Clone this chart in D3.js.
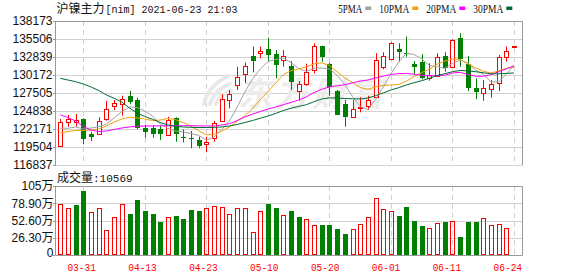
<!DOCTYPE html>
<html><head><meta charset="utf-8">
<script src="https://cdn.jsdelivr.net/npm/d3@7"></script>
<style>body{margin:0;background:#fff;}svg{display:block;}</style>
</head><body>
<svg id="c" width="578" height="276"></svg>
<script>
// ---------------- DATA ----------------
const title = "沪镍主力[nim] 2021-06-23 21:03";
const dates = ["03-26","03-29","03-30","03-31","04-01","04-02","04-06","04-07","04-08","04-09","04-12","04-13","04-14","04-15","04-16","04-19","04-20","04-21","04-22","04-23","04-26","04-27","04-28","04-29","04-30","05-06","05-07","05-10","05-11","05-12","05-13","05-14","05-17","05-18","05-19","05-20","05-21","05-24","05-25","05-26","05-27","05-28","05-31","06-01","06-02","06-03","06-04","06-07","06-08","06-09","06-10","06-11","06-15","06-16","06-17","06-18","06-21","06-22","06-23","06-24"];
const open  = [119700,123160,123250,123580,121430,121430,123610,125580,125830,127060,126470,122250,122280,122130,121240,123760,121030,120790,120540,119900,120790,123360,126420,128690,130320,132990,133390,134020,133240,132440,131510,127800,128840,130910,134400,131800,127800,125880,123900,125240,125620,126960,131360,132540,133980,133390,131760,132140,129770,130020,132990,131400,135610,131760,128250,127460,128050,128940,132880,134280];
const high  = [123650,124250,124390,123760,121770,123900,126320,126470,127100,127800,126810,122760,122760,122660,123990,123900,122130,121880,121030,121030,123360,127310,127950,131400,132000,134370,134370,135700,133880,133880,132250,129280,131850,134870,134510,132000,127950,126470,126470,126870,127100,133390,133540,135020,134870,135850,132250,133240,131910,133390,133540,135460,136350,132990,129680,129430,129430,133140,134370,134510];
const low   = [119700,122510,122510,119900,120390,121390,123400,124990,124140,125830,122130,120880,120880,120540,121130,120290,120200,119310,119310,118720,120290,123250,125240,127950,128940,130570,132650,132140,129680,131400,127950,126360,128590,130420,132140,127100,124250,122510,123900,124650,124990,126810,131020,132500,132140,132880,130280,129530,129330,129920,130660,131250,131400,127800,126570,126360,126810,127800,132140,134280];
const close = [123160,123610,123460,120650,121030,123400,125090,126020,126620,126170,122280,121680,121430,121390,123460,121390,120940,120690,119700,120250,123020,126570,127360,129920,131510,132290,133730,133140,131650,132940,129180,128790,130660,134420,132880,128440,124250,123990,125090,125480,126470,132400,132940,134910,133620,133240,131400,129680,130170,132800,131170,135360,132540,128290,127700,128200,128840,132800,133730,134510];
const ma5  = [122280,122280,122470,122170,122320,122510,122910,123800,124760,125430,125360,124840,124100,122910,122250,121870,121730,121500,121210,120540,120990,122100,123360,125430,127650,129580,131060,132170,132470,132690,132020,131140,130690,131180,131210,131060,130140,128760,126990,125500,125050,126540,128390,130320,132100,133360,133220,132570,131580,131450,131140,131880,132400,131950,130910,130320,129140,129160,130280,131610];
const ma10 = [121580,121800,121950,121950,122020,122170,122620,123210,123650,123920,123830,123640,123430,123500,123730,123550,123130,122600,121900,121310,121390,121870,122470,123330,124130,125220,126500,127740,128940,130220,130820,131050,131390,131830,131970,131580,130630,129730,129060,128320,128050,128410,128630,128690,128770,129240,129950,130530,131030,131760,132230,132530,132480,131830,131240,130740,130470,130780,131140,131310];
const ma20 = [124250,123870,123360,122540,122020,121800,121870,122100,122320,122470,122570,122620,122620,122650,122660,122660,122660,122660,122650,122620,122620,122770,122960,123420,123950,124390,124760,125130,125430,125770,126110,126470,126930,127580,128050,128410,128570,128740,129000,129270,129430,129730,130010,130260,130370,130410,130290,130130,130050,130040,130140,130470,130560,130260,129990,129980,130220,130660,131090,131540];
const ma30 = [129680,129430,129180,128840,128390,127880,127210,126720,126170,125280,124540,124020,123610,123130,122760,122540,122470,122420,122390,122390,122420,122470,122620,122840,123130,123430,123760,124100,124470,124910,125250,125520,125770,126220,126620,126780,126760,126690,126650,126620,126760,127120,127510,127950,128290,128690,129030,129330,129680,130100,130370,130660,130840,130780,130660,130510,130350,130350,130410,130470];
const volume = [77.5,71.5,76.5,97.5,65.5,71.5,38.5,58,77.5,63,84,67.5,63,51,58,60,55.5,69,67.5,71.5,74.5,73,62.5,71.5,71.5,35.5,67,78,72,61,67.5,58.5,55.5,46,46,46,40.5,33,40.5,47.5,58,86.5,70,67,60,73.5,52.5,45,41.5,49,51,52.5,28.5,51,51,56.5,46,47.5,42,1.0569]; // 万
const priceTicks = [138173,135506,132839,130172,127505,124838,122171,119504,116837];
const volTicks = [105,78.9,52.6,26.3,0];
const volTickLabels = ["105万","78.90万","52.60万","26.30万","0"];
const dateTicks = ["03-31","04-13","04-23","05-10","05-20","06-01","06-11","06-24"];
const maNames = ["5PMA","10PMA","20PMA","30PMA"];
const maColors = ["#a3a3a3","#f0a30a","#ff00ff","#006b33"];

// ---------------- LAYOUT ----------------
const L = 55, R = 522, T = 21, B = 165, VT = 186, VB = 255.5;
const RED = "#ff0000", GREEN = "#008000";
const svg = d3.select("#c");
const x = d3.scaleLinear().domain([0, dates.length - 1]).range([60.3, 514]);
const xl = d3.scaleLinear().domain([0, dates.length - 1]).range([58.8, 507.8]);
const y = d3.scaleLinear().domain([priceTicks[priceTicks.length-1], priceTicks[0]]).range([B, T]);
const yv = d3.scaleLinear().domain([0, volTicks[0]]).range([VB, VT]);
const px = v => Math.round(v) + 0.5;
const tickIdx = dateTicks.map(d => dates.indexOf(d));

// grids
const g = svg.append("g");
priceTicks.forEach(t => g.append("line").attr("x1", L).attr("x2", R).attr("y1", px(y(t))).attr("y2", px(y(t))).attr("stroke", "#d2d2d2"));
volTicks.slice(1, -1).forEach(t => g.append("line").attr("x1", L).attr("x2", R).attr("y1", px(yv(t))).attr("y2", px(yv(t))).attr("stroke", "#d2d2d2"));
tickIdx.forEach(i => {
  g.append("line").attr("x1", px(x(i))).attr("x2", px(x(i))).attr("y1", T).attr("y2", B).attr("stroke", "#cfcfcf").attr("stroke-dasharray", "5,4");
  g.append("line").attr("x1", px(x(i))).attr("x2", px(x(i))).attr("y1", VT).attr("y2", VB).attr("stroke", "#cfcfcf").attr("stroke-dasharray", "5,4");
});

// watermark
const wm = svg.append("g").attr("fill", "none").attr("stroke", "#e9e9e9").attr("stroke-width", 4).attr("stroke-linecap", "round");
wm.append("path").attr("d", "M204,104 Q208,86 228,76");
wm.append("path").attr("d", "M210,104 Q214,90 230,84");
wm.append("path").attr("d", "M216,104 Q220,94 231,91");
svg.append("text").attr("x", 238).attr("y", 106).attr("font-family", "Noto Sans CJK SC").attr("font-weight", "bold")
  .attr("font-style", "italic").attr("font-size", 34).attr("letter-spacing", 3).attr("fill", "#ececec").text("东方财富");

// frames
const fr = svg.append("g").attr("stroke", "#999").attr("fill", "none");
fr.append("path").attr("d", `M${L+0.5},${T+0.5}H${R+0.5}V${B+0.5}`);
fr.append("path").attr("d", `M${L+0.5},${VT+0.5}H${R+0.5}V${VB}H${L+0.5}`);
fr.append("line").attr("x1", L+0.5).attr("x2", L+0.5).attr("y1", T).attr("y2", B+1);
fr.append("line").attr("x1", L+0.5).attr("x2", L+0.5).attr("y1", VT).attr("y2", VB);
priceTicks.forEach(t => fr.append("line").attr("x1", L-2).attr("x2", L).attr("y1", px(y(t))).attr("y2", px(y(t))));
volTicks.forEach(t => fr.append("line").attr("x1", L-2).attr("x2", L).attr("y1", px(Math.min(yv(t), VB-0.5))).attr("y2", px(Math.min(yv(t), VB-0.5))));

// axis labels
const lab = svg.append("g").attr("font-family", "Liberation Sans, Arial, sans-serif").attr("font-size", 12).attr("fill", "#111");
priceTicks.forEach(t => lab.append("text").attr("x", 52.5).attr("y", y(t)).attr("dy", "0.36em").attr("text-anchor", "end").text(t));
volTicks.forEach((t, k) => {
  const yy = Math.min(yv(t), VB - 2.5);
  const s = volTickLabels[k];
  const tx = lab.append("text").attr("x", 53.5).attr("y", yy).attr("dy", "0.36em").attr("text-anchor", "end");
  tx.append("tspan").text(s.replace("万", ""));
  if (s.includes("万")) tx.append("tspan").attr("font-family", "Noto Sans CJK SC").attr("font-size", 12).text("万");
});
svg.append("g").attr("font-family", "Liberation Mono, monospace").attr("font-size", 11).attr("fill", RED)
  .selectAll("text").data(tickIdx).join("text")
  .attr("x", i => xl(i)).attr("y", 270.5).attr("text-anchor", "middle")
  .attr("textLength", 28.5).attr("lengthAdjust", "spacingAndGlyphs").text(i => dates[i]);

// candles
const cg = svg.append("g");
dates.forEach((d, i) => {
  const cx = Math.round(x(i));
  const up = close[i] >= open[i];
  const col = up ? RED : GREEN;
  const yt = Math.round(y(Math.max(open[i], close[i])));
  const yb = Math.round(y(Math.min(open[i], close[i])));
  cg.append("line").attr("x1", cx + 0.5).attr("x2", cx + 0.5).attr("y1", y(high[i])).attr("y2", y(low[i])).attr("stroke", col);
  if (up) cg.append("rect").attr("x", cx - 1.5).attr("y", yt + 0.5).attr("width", 4).attr("height", Math.max(yb - yt, 0)).attr("fill", "#fff").attr("stroke", col);
  else cg.append("rect").attr("x", cx - 2).attr("y", yt).attr("width", 5).attr("height", Math.max(yb - yt, 1)).attr("fill", col);
});

// MA lines
[ma5, ma10, ma20, ma30].forEach((arr, k) => {
  svg.append("path").attr("d", d3.line().x((v, i) => x(i)).y(v => y(v))(arr))
    .attr("fill", "none").attr("stroke", maColors[k]).attr("stroke-width", 1);
});

// volume bars
const vg = svg.append("g");
dates.forEach((d, i) => {
  const cx = Math.round(x(i));
  const up = i === 0 ? true : close[i] >= close[i - 1];
  const col = up ? RED : GREEN;
  const top = Math.round(yv(volume[i]));
  const bot = Math.floor(VB);
  if (up) vg.append("rect").attr("x", cx - 1.5).attr("y", top + 0.5).attr("width", 4).attr("height", Math.max(bot - top - 1, 0)).attr("fill", "none").attr("stroke", col);
  else vg.append("rect").attr("x", cx - 2).attr("y", top).attr("width", 5).attr("height", Math.max(bot - top, 1)).attr("fill", col);
});

// title
const cjk = title.match(/^[^\x00-\x7f]+/)[0];
const rest = title.slice(cjk.length);
const tt = svg.append("text").attr("x", 56.5).attr("y", 13).attr("fill", "#111");
tt.append("tspan").attr("font-family", "Noto Sans CJK SC").attr("font-size", 12).text(cjk);
tt.append("tspan").attr("font-family", "Liberation Mono, monospace").attr("font-size", 11).attr("dx", 1)
  .attr("textLength", rest.length * 6).attr("lengthAdjust", "spacingAndGlyphs").text(rest);

// legend
let lx = 338.3;
maNames.forEach((n, k) => {
  const w = n.length * 6;
  svg.append("text").attr("x", lx).attr("y", 12.5).attr("font-family", "Liberation Serif, serif").attr("font-size", 11.5)
    .attr("fill", "#111").attr("textLength", w).attr("lengthAdjust", "spacingAndGlyphs").text(n);
  svg.append("rect").attr("x", lx + w + 3).attr("y", 6.5).attr("width", 6).attr("height", 3.5).attr("fill", maColors[k]);
  lx += w + 17;
});

// volume header
const vh = svg.append("text").attr("x", 57).attr("y", 181.5).attr("fill", "#111").attr("font-size", 12);
vh.append("tspan").attr("font-family", "Noto Sans CJK SC").text("成交量");
vh.append("tspan").attr("font-family", "Liberation Mono, monospace").attr("font-size", 11)
  .text(":" + Math.round(volume[volume.length - 1] * 10000));
</script>
</body></html>
